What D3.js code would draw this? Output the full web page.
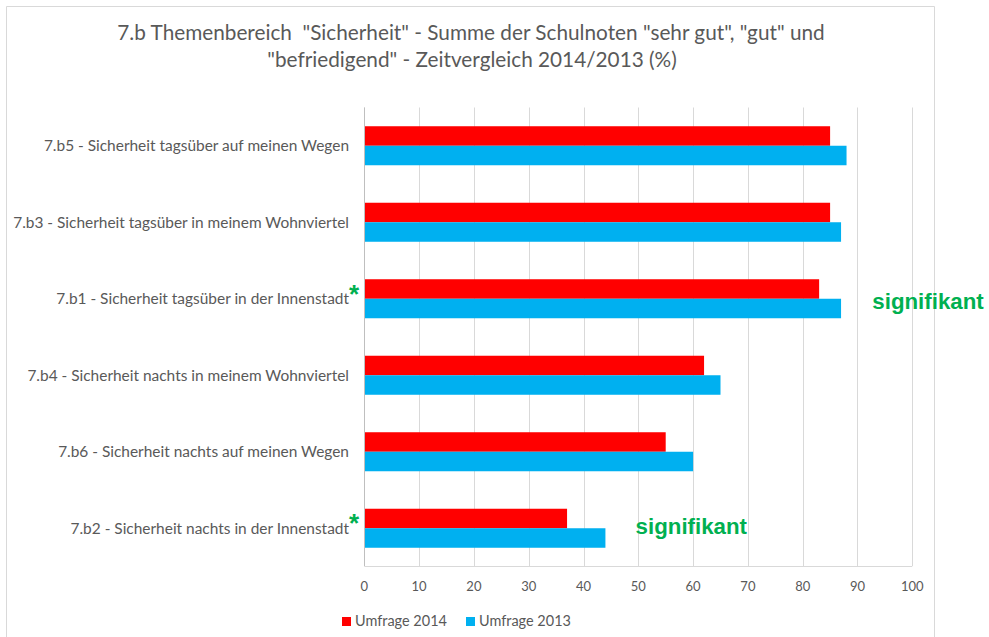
<!DOCTYPE html>
<html>
<head>
<meta charset="utf-8">
<script src="https://cdn.jsdelivr.net/npm/d3@7"></script>
<style>
  html, body { margin: 0; padding: 0; background: #fff; }
  svg { display: block; }
  .pre { white-space: pre; }
</style>
</head>
<body>
<svg id="chart" width="989" height="637"></svg>
<script>
// --- data ---
const categories = [
  "7.b5 - Sicherheit tagsüber auf meinen Wegen",
  "7.b3 - Sicherheit tagsüber in meinem Wohnviertel",
  "7.b1 - Sicherheit tagsüber in der Innenstadt",
  "7.b4 - Sicherheit nachts in meinem Wohnviertel",
  "7.b6 - Sicherheit nachts auf meinen Wegen",
  "7.b2 - Sicherheit nachts in der Innenstadt"
];
const seriesNames = ["Umfrage 2014", "Umfrage 2013"];
const values2014 = [85, 85, 83, 62, 55, 37];
const values2013 = [88, 87, 87, 65, 60, 44];
const seriesColors = ["#ff0000", "#00b0f0"];
const xTicks = [0, 10, 20, 30, 40, 50, 60, 70, 80, 90, 100];
const titleLines = [
  '7.b Themenbereich  "Sicherheit" - Summe der Schulnoten "sehr gut", "gut" und',
  '"befriedigend" - Zeitvergleich 2014/2013 (%)'
];
// significance notes: category, x-position (in axis units) of the note text
const significantCats = [categories[2], categories[5]];
const noteX = [92.7, 49.5];
const noteDy = [10, 6];

const FONT = "Lato, 'Open Sans', sans-serif";
const GREY = "#595959";
const GREEN = "#00b050";

const svg = d3.select('#chart');

// fit a text selection's font size so that its width matches target
function fitSize(sel, target) {
  const w = sel.node().getComputedTextLength();
  const fs = parseFloat(sel.attr('font-size'));
  return fs * target / w;
}

// outer frame (top, left, right – bottom cut off in the reference)
svg.append('path')
  .attr('d', 'M6.5,637V6.5H934.5V637')
  .attr('fill', 'none')
  .attr('stroke', '#d9d9d9');

// title
const title = svg.append('g').attr('font-family', FONT).attr('fill', GREY);
const t1 = title.append('text').attr('class', 'pre').attr('xml:space', 'preserve')
  .attr('x', 471).attr('y', 40)
  .attr('text-anchor', 'middle').attr('font-size', 18).text(titleLines[0]);
const titleSize = fitSize(t1, 708);
t1.attr('font-size', titleSize);
title.append('text').attr('x', 472).attr('y', 67)
  .attr('text-anchor', 'middle').attr('font-size', titleSize).text(titleLines[1]);

// scales
const x = d3.scaleLinear().domain([0, 100]).range([364.3, 912.3]);
const y = d3.scaleBand().domain(categories).range([107.5, 566.5])
  .paddingInner(0.49).paddingOuter(0.245);
const ySub = d3.scaleBand().domain(seriesNames).range([0, y.bandwidth()]);

const plotTop = 107.5, plotBottom = 566;

// gridlines
svg.append('g')
  .attr('stroke', '#d9d9d9')
  .selectAll('line')
  .data(xTicks)
  .join('line')
  .attr('x1', d => Math.round(x(d)) + 0.5).attr('x2', d => Math.round(x(d)) + 0.5)
  .attr('y1', plotTop).attr('y2', plotBottom);

svg.append('line')
  .attr('x1', x(0)).attr('x2', x(100))
  .attr('y1', plotBottom + 0.5).attr('y2', plotBottom + 0.5)
  .attr('stroke', '#d9d9d9');

// bars
const rows = categories.map((c, i) => ({ cat: c, vals: [values2014[i], values2013[i]] }));
const groups = svg.append('g').selectAll('g')
  .data(rows)
  .join('g')
  .attr('transform', d => `translate(0,${y(d.cat)})`);

groups.selectAll('rect')
  .data(d => d.vals.map((v, j) => ({ s: seriesNames[j], v, c: seriesColors[j] })))
  .join('rect')
  .attr('x', x(0) + 0.5)
  .attr('y', d => ySub(d.s))
  .attr('width', d => x(d.v) - x(0) - 0.5)
  .attr('height', ySub.bandwidth())
  .attr('fill', d => d.c);

// category axis line
svg.append('line')
  .attr('x1', Math.round(x(0)) + 0.5).attr('x2', Math.round(x(0)) + 0.5)
  .attr('y1', plotTop).attr('y2', plotBottom)
  .attr('stroke', '#bfbfbf');

// category labels
const labels = svg.append('g')
  .attr('font-family', FONT).attr('fill', GREY).attr('text-anchor', 'end')
  .selectAll('text')
  .data(categories)
  .join('text')
  .attr('x', 349)
  .attr('y', d => y(d) + y.bandwidth() / 2)
  .attr('dy', '0.35em')
  .attr('font-size', 13)
  .text(d => d);
const labelSize = fitSize(labels.filter((d, i) => i === 1), 336);
labels.attr('font-size', labelSize);

// x tick labels
svg.append('g')
  .attr('font-family', FONT).attr('fill', GREY).attr('text-anchor', 'middle')
  .attr('font-size', 13)
  .selectAll('text')
  .data(xTicks)
  .join('text')
  .attr('x', d => x(d))
  .attr('y', 591)
  .text(d => d);

// asterisks + significance notes
svg.append('g')
  .attr('font-family', "Arial, 'Liberation Sans', sans-serif")
  .attr('font-weight', 'bold').attr('fill', GREEN).attr('font-size', 26)
  .selectAll('text')
  .data(significantCats)
  .join('text')
  .attr('x', 354).attr('text-anchor', 'middle')
  .attr('y', d => y(d) + y.bandwidth() / 2 + 4)
  .text('*');

svg.append('g')
  .attr('font-family', "Arial, 'Liberation Sans', sans-serif")
  .attr('font-weight', 'bold').attr('fill', GREEN).attr('font-size', 22.3)
  .selectAll('text')
  .data(significantCats)
  .join('text')
  .attr('x', (d, i) => x(noteX[i]))
  .attr('y', (d, i) => y(d) + y.bandwidth() / 2 + noteDy[i])
  .text('signifikant');

// legend
const legend = svg.append('g')
  .attr('font-family', FONT).attr('fill', GREY).attr('font-size', 13);
const legX = [342, 466];
seriesNames.forEach((s, i) => {
  legend.append('rect')
    .attr('x', legX[i]).attr('y', 617)
    .attr('width', 9).attr('height', 9)
    .attr('fill', seriesColors[i]);
  const lt = legend.append('text')
    .attr('x', legX[i] + 13).attr('y', 626)
    .attr('font-size', 13)
    .text(s);
  lt.attr('font-size', fitSize(lt, 92));
});
</script>
</body>
</html>
